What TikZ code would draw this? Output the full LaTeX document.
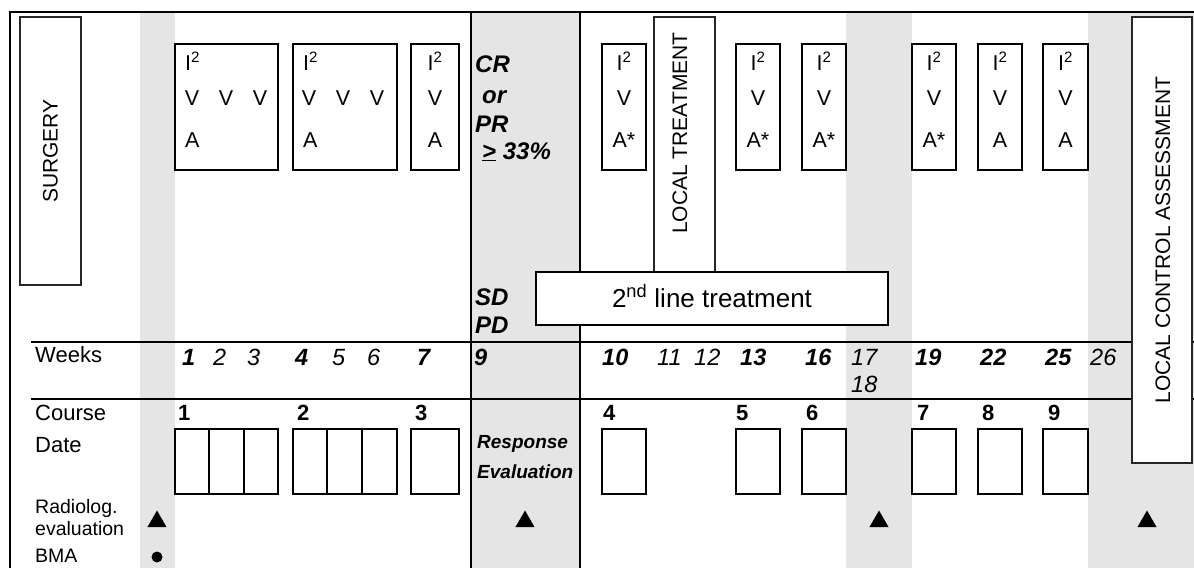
\documentclass[tikz,border=0pt]{standalone}
\usepackage{fontspec}
\setmainfont{Liberation Sans}
\usetikzlibrary{shapes.geometric}
\definecolor{bandgrey}{RGB}{229,229,229}
\begin{document}
\begin{tikzpicture}[x=1pt,y=-1pt,
  band/.style={fill=bandgrey},
  frameline/.style={line width=2.2pt},
  ruleline/.style={line width=1.8pt},
  cbox/.style={draw, line width=2.2pt, fill=white, inner sep=0pt, minimum height=126pt},
  dbox/.style={draw, line width=2.2pt, fill=white, inner sep=0pt, minimum height=65pt},
  thinbox/.style={draw=black!85, line width=1.3pt, fill=white, inner sep=0pt},
  bl/.style={inner sep=0pt, anchor=base, font=\fontsize{21.5}{25}\selectfont},
  lbl/.style={inner sep=0pt, anchor=base west, font=\fontsize{22}{25}\selectfont},
  slbl/.style={inner sep=0pt, anchor=base west, font=\fontsize{19.5}{22}\selectfont},
  wk/.style={inner sep=0pt, anchor=base west, font=\fontsize{23.5}{26}\selectfont\itshape},
  wkb/.style={inner sep=0pt, anchor=base west, font=\fontsize{23.5}{26}\selectfont\bfseries\itshape},
  crs/.style={inner sep=0pt, anchor=base west, font=\fontsize{22}{26}\selectfont\bfseries},
  resp/.style={inner sep=0pt, anchor=base west, font=\fontsize{24}{28}\selectfont\bfseries\itshape},
  eval/.style={inner sep=0pt, anchor=base west, font=\fontsize{19}{22}\selectfont\bfseries\itshape},
  rottext/.style={inner sep=0pt, rotate=90, font=\fontsize{21}{25}\selectfont},
  tri/.style={regular polygon, regular polygon sides=3, fill=black, inner sep=0pt, minimum size=22pt},
  dot/.style={circle, fill=black, inner sep=0pt, minimum size=11pt}
]
\useasboundingbox (0,0) rectangle (1194,568);

% grey bands
\fill[band] (140,12) rectangle (175,568);
\fill[band] (471,12) rectangle (580,568);
\fill[band] (846,12) rectangle (912,568);
\fill[band] (1088,12) rectangle (1194,568);

% frame and grid lines
\draw[frameline] (10,568) -- (10,12) -- (1194,12);
\draw[frameline] (471,12) -- (471,568);
\draw[frameline] (580,12) -- (580,568);
\draw[ruleline] (31,342) -- (1194,342);
\draw[ruleline] (31,399) -- (1194,399);

% surgery
\node[thinbox, rotate=90, minimum width=268pt, minimum height=61pt, font=\fontsize{21}{25}\selectfont] (surg) at (50.5,151) {SURGERY};

% course boxes 1 and 2
\node[cbox, minimum width=103pt] (c1) at (226.5,107) {};
\node[bl, anchor=base west] (ci1) at (185,70) {I\textsuperscript{2}};
\node[bl] (cva1) at (192,105) {V};
\node[bl] (cvb1) at (226,105) {V};
\node[bl] (cvc1) at (260,105) {V};
\node[bl, anchor=base west] (ca1) at (185,147) {A};

\node[cbox, minimum width=104pt] (c2) at (345,107) {};
\node[bl, anchor=base west] (ci2) at (303,70) {I\textsuperscript{2}};
\node[bl] (cva2) at (309,105) {V};
\node[bl] (cvb2) at (343,105) {V};
\node[bl] (cvc2) at (377,105) {V};
\node[bl, anchor=base west] (ca2) at (303,147) {A};

% course boxes 3..9
\foreach \n/\cx/\w/\a in {3/435/48/A, 4/624/44/A*, 5/758/44/A*, 6/824/44/A*, 7/934/44/A*, 8/1000/44/A, 9/1065.5/45/A} {
  \node[cbox, minimum width=\w pt] (c\n) at (\cx,107) {};
  \node[bl] (ci\n) at (\cx,70) {I\textsuperscript{2}};
  \node[bl] (cv\n) at (\cx,105) {V};
  \node[bl] (ca\n) at (\cx,147) {\a};
}

% local treatment
\node[thinbox, minimum width=61pt, minimum height=255pt] (ltbox) at (684.5,144.5) {};
\node[rottext] (lt) at (680,133) {LOCAL TREATMENT};

% response column text
\node[resp] (cr) at (475,72) {CR};
\node[resp] (or) at (482,103) {or};
\node[resp] (pr) at (475,132) {PR};
\node[resp] (pct) at (482,159) {\underline{>} 33\%};
\node[resp] (sd) at (475,305) {SD};
\node[resp] (pd) at (475,333) {PD};

% 2nd line treatment
\node[draw, line width=2pt, fill=white, inner sep=0pt, minimum width=352pt, minimum height=53pt] (second) at (712,298.5) {};
\node[inner sep=0pt, anchor=base, font=\fontsize{26}{30}\selectfont] (secondt) at (712,307) {2\textsuperscript{nd} line treatment};

% local control assessment
\node[thinbox, minimum width=60pt, minimum height=446pt] (lcbox) at (1162,240) {};
\node[rottext] (lc) at (1163,240) {LOCAL CONTROL ASSESSMENT};

% row labels
\node[lbl] (weeks) at (35,362) {Weeks};
\node[lbl] (course) at (35,420) {Course};
\node[lbl] (date) at (35,452) {Date};
\node[slbl] (radio) at (35,513) {Radiolog.};
\node[slbl] (evalu) at (35,535) {evaluation};
\node[slbl] (bma) at (35,562) {BMA};

% weeks
\node[wkb] (w1) at (182,365) {1};
\node[wk] (w2) at (213,365) {2};
\node[wk] (w3) at (247,365) {3};
\node[wkb] (w4) at (295,365) {4};
\node[wk] (w5) at (332,365) {5};
\node[wk] (w6) at (367,365) {6};
\node[wkb] (w7) at (417,365) {7};
\node[wkb] (w9) at (474,365) {9};
\node[wkb] (w10) at (602,365) {10};
\node[wk] (w11) at (657,365) {11};
\node[wk] (w12) at (694,365) {12};
\node[wkb] (w13) at (740,365) {13};
\node[wkb] (w16) at (805,365) {16};
\node[wk] (w17) at (851,365) {17};
\node[wk] (w18) at (851,392) {18};
\node[wkb] (w19) at (915,365) {19};
\node[wkb] (w22) at (980,365) {22};
\node[wkb] (w25) at (1045,365) {25};
\node[wk] (w26) at (1090,365) {26};

% course numbers
\node[crs] (k1) at (178,420) {1};
\node[crs] (k2) at (297,420) {2};
\node[crs] (k3) at (415,420) {3};
\node[crs] (k4) at (603,420) {4};
\node[crs] (k5) at (736,420) {5};
\node[crs] (k6) at (806,420) {6};
\node[crs] (k7) at (917,420) {7};
\node[crs] (k8) at (982,420) {8};
\node[crs] (k9) at (1048,420) {9};

% date boxes
\foreach \n/\cx/\w in {a/192/34, b/226.5/35, c/261/34, d/310/34, e/344.5/35, f/379.5/35, g/435/48, h/624/44, i/758/44, j/824/44, k/934/44, l/1000/44, m/1065.5/45} {
  \node[dbox, minimum width=\w pt] (d\n) at (\cx,461.5) {};
}

% response evaluation
\node[eval] (resp1) at (477,448) {Response};
\node[eval] (resp2) at (477,478) {Evaluation};

% markers
\node[tri] (t1) at (157,521.5) {};
\node[tri] (t2) at (525,521.5) {};
\node[tri] (t3) at (879,521.5) {};
\node[tri] (t4) at (1147,521.5) {};
\node[dot] (b1) at (157,557) {};
\end{tikzpicture}
\end{document}
